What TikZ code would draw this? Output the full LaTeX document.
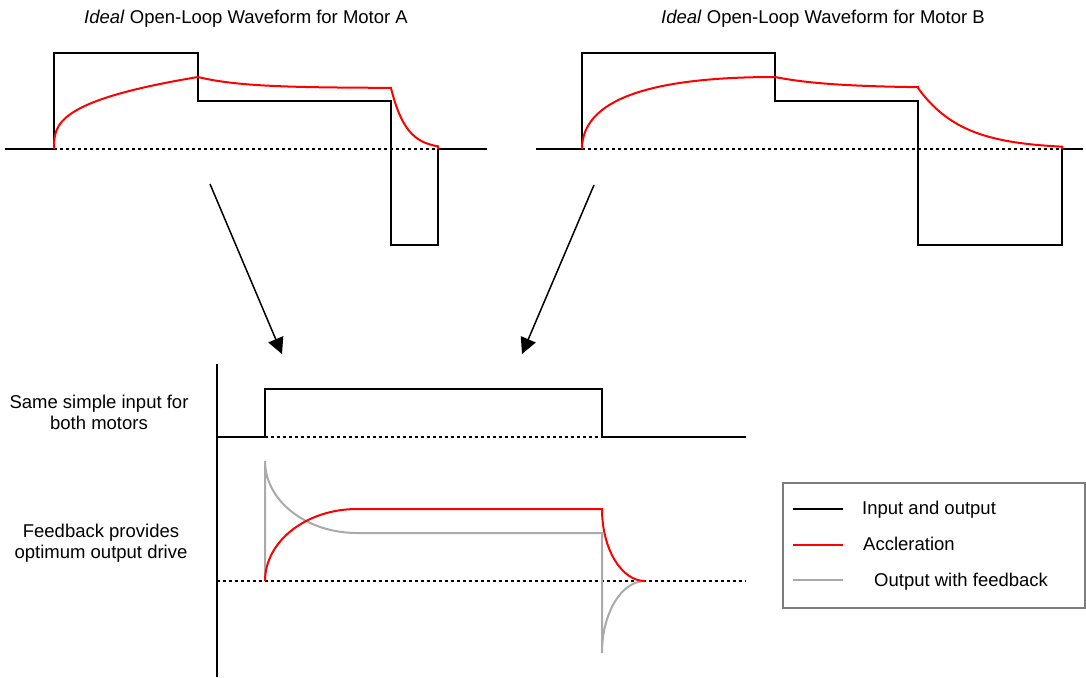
\documentclass[tikz,border=0pt]{standalone}
\usepackage{fontspec}
\setmainfont{Liberation Sans}
\usetikzlibrary{arrows.meta}
\definecolor{fbgray}{RGB}{170,170,170}
\definecolor{boxgray}{RGB}{125,125,125}
\definecolor{accred}{RGB}{255,0,0}
\tikzset{
  wave/.style={line width=2pt, black, line join=miter},
  accel/.style={line width=2pt, accred},
  fback/.style={line width=2pt, fbgray},
  zeroline/.style={line width=2pt, black, dash pattern=on 3pt off 3pt},
  axisline/.style={line width=1.5pt, black},
  pointer/.style={line width=1.5pt, black, -{Triangle[length=16pt,width=16pt]}},
  lbl/.style={inner sep=0pt, font=\fontsize{18.5}{21.5}\selectfont},
  legendbox/.style={draw=boxgray, line width=1.5pt, inner sep=0pt, minimum width=302pt, minimum height=125pt, anchor=north west},
}
\begin{document}
\begin{tikzpicture}[x=1pt,y=-1pt]
\useasboundingbox (0,0) rectangle (1086,677);

% titles
\node[lbl, anchor=base] (titleA) at (246,24) {\textit{Ideal} Open-Loop Waveform for Motor A};
\node[lbl, anchor=base] (titleB) at (823,24) {\textit{Ideal} Open-Loop Waveform for Motor B};

% ---------- Motor A ----------
\draw[zeroline] (54,149) -- (438,149);
\draw[wave] (5,149) -- (54,149) -- (54,53) -- (198,53) -- (198,101) -- (391,101) -- (391,245) -- (438,245) -- (438,149) -- (487,149);
\draw[accel] (54,149) .. controls (54,125) and (54,101) .. (198,77)
  -- plot[domain=198:391, samples=60] (\x,{88-11*exp(-(\x-198)/45)})
  -- plot[domain=391:438, samples=40] (\x,{149-61*exp(-(\x-391)/15)})
  -- (438,149);

% ---------- Motor B ----------
\draw[zeroline] (582,149) -- (1062,149);
\draw[wave] (536,149) -- (582,149) -- (582,53) -- (775,53) -- (775,101) -- (918,101) -- (918,245) -- (1062,245) -- (1062,149) -- (1083,149);
\draw[accel] (582,149) .. controls (582,101) and (646,77) .. (775,77)
  -- plot[domain=775:918, samples=60] (\x,{88-11*exp(-(\x-775)/55)})
  -- plot[domain=918:1062, samples=60] (\x,{149-61*exp(-(\x-918)/44)})
  -- (1062,149);

% ---------- arrows ----------
\coordinate (aAs) at (210,184);
\coordinate (aAe) at (282,354);
\coordinate (aBs) at (594,185);
\coordinate (aBe) at (522,354);
\draw[pointer] (aAs) -- (aAe);
\draw[pointer] (aBs) -- (aBe);

% ---------- bottom graph ----------
\draw[axisline] (217,364) -- (217,677);
\draw[zeroline] (265,437) -- (602,437);
\draw[zeroline] (217,581) -- (746,581);
\draw[wave] (217,437) -- (265,437) -- (265,389) -- (602,389) -- (602,437) -- (746,437);
\draw[fback] (265,581) -- (265,461) .. controls (265,500.7) and (306.2,533) .. (357,533)
  -- (602,533) -- (602,653) .. controls (602,613.3) and (621.3,581) .. (645,581);
\draw[accel] (265,581) .. controls (265,541.3) and (306.2,509) .. (357,509)
  -- (602,509) .. controls (602,548.7) and (621.3,581) .. (645,581);

% left labels
\node[lbl, anchor=base] (same1) at (99,408) {Same simple input for};
\node[lbl, anchor=base] (same2) at (99,429) {both motors};
\node[lbl, anchor=base] (feed1) at (101,537) {Feedback provides};
\node[lbl, anchor=base] (feed2) at (101,558) {optimum output drive};

% ---------- legend ----------
\node[legendbox] (legend) at (782,482) {};
\draw[wave] (793,509) -- (843,509);
\draw[accel] (793,545) -- (843,545);
\draw[fback] (793,580) -- (843,580);
\node[lbl, anchor=base west] (legIO) at (862,514) {Input and output};
\node[lbl, anchor=base west] (legAc) at (863,550) {Accleration};
\node[lbl, anchor=base west] (legFb) at (874,586) {Output with feedback};
\end{tikzpicture}
\end{document}
